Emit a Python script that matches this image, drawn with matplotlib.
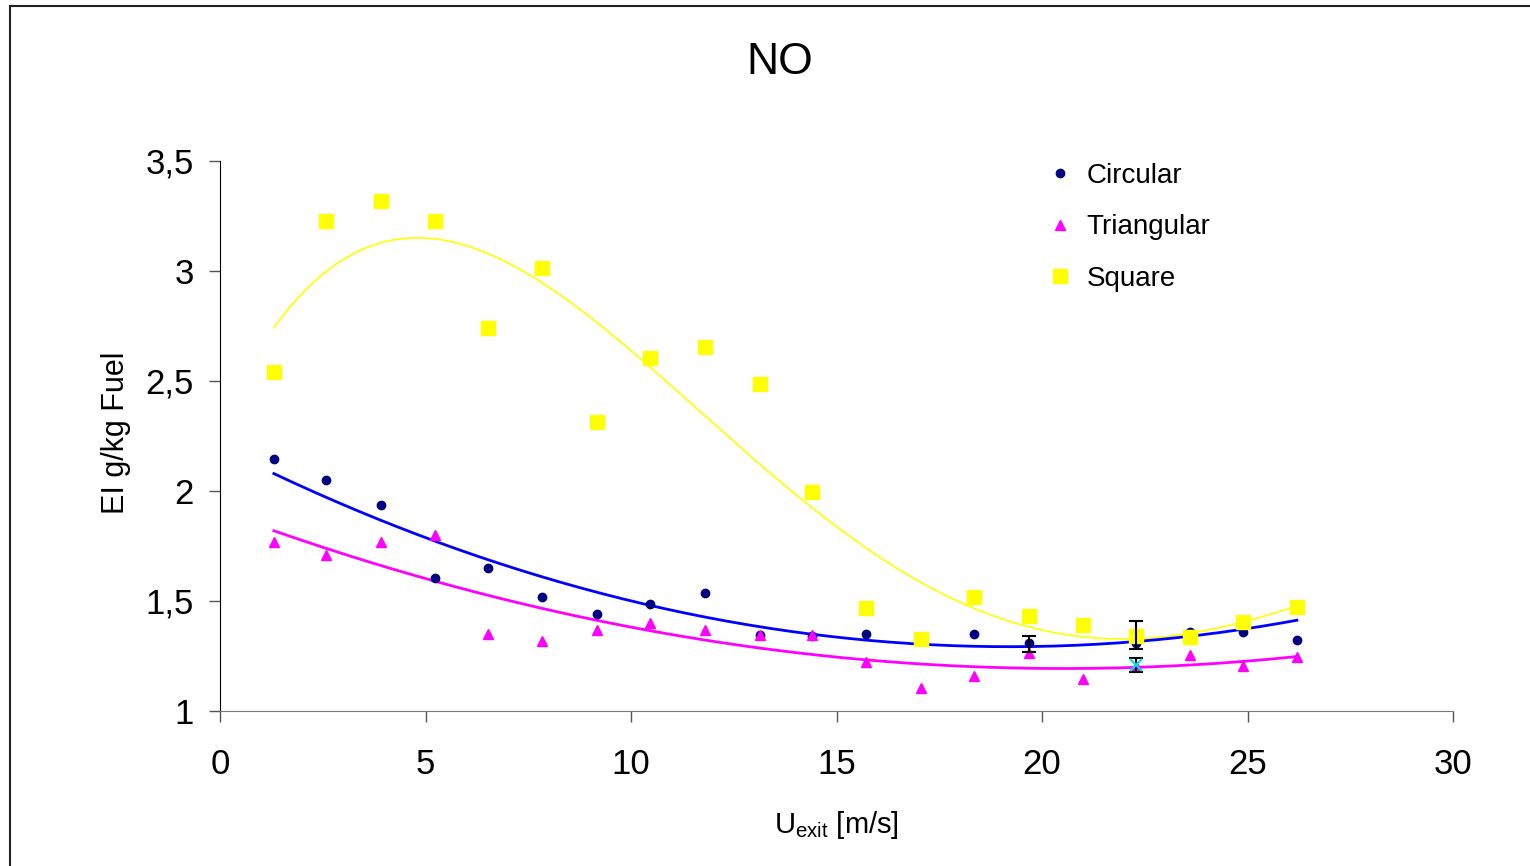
import numpy as np
import matplotlib
matplotlib.use("Agg")
import matplotlib.pyplot as plt
from matplotlib.patches import Rectangle
from matplotlib.ticker import FuncFormatter

plt.rcParams['font.family'] = ['Liberation Sans', 'DejaVu Sans']
plt.rcParams['mathtext.default'] = 'regular'

# exit velocity [m/s]
u_exit = [1.31, 2.58, 3.92, 5.23, 6.52, 7.83, 9.17, 10.46, 11.8, 13.14,
          14.4, 15.72, 17.06, 18.35, 19.68, 21.0, 22.29, 23.6, 24.9, 26.2]

# EI NO [g/kg fuel]
circular = [2.145, 2.05, 1.938, 1.606, 1.648, 1.52, 1.44, 1.486, 1.536, 1.345,
            1.34, 1.35, 1.33, 1.348, 1.307, 1.38, 1.31, 1.36, 1.357, 1.323]
triangular = [1.77, 1.71, 1.77, 1.80, 1.35, 1.32, 1.37, 1.40, 1.37, 1.345,
              1.345, 1.224, 1.105, 1.16, 1.264, 1.145, 1.205, 1.255, 1.205, 1.247]
square = [2.54, 3.229, 3.32, 3.229, 2.742, 3.014, 2.315, 2.606, 2.656, 2.486,
          1.995, 1.47, 1.327, 1.52, 1.433, 1.392, 1.34, 1.338, 1.406, 1.474]

# error bars shown on a few points
err_x = [19.68, 22.29, 22.29]
err_y = [1.305, 1.345, 1.21]
err_size = [0.035, 0.062, 0.032]

fig = plt.figure(figsize=(15.3, 8.66), dpi=100)
ax = fig.add_axes([220 / 1530, 1 - 711 / 866, 1233 / 1530, 550 / 866])

# polynomial trend lines like in the spreadsheet
xs = np.linspace(u_exit[0], u_exit[-1], 200)
ax.plot(xs, np.polyval(np.polyfit(u_exit, square, 4), xs), color='#FFFF00', lw=1.2, zorder=2)
ax.plot(xs, np.polyval(np.polyfit(u_exit, circular, 2), xs), color='#0000FF', lw=2, zorder=2)
ax.plot(xs, np.polyval(np.polyfit(u_exit, triangular, 2), xs), color='#FF00FF', lw=2, zorder=2)

ax.plot(u_exit, circular, 'o', color='#000080', ms=6, ls='none', label='Circular', zorder=3)
ax.plot(u_exit, triangular, '^', color='#FF00FF', ms=7, ls='none', label='Triangular', zorder=3)
ax.plot(u_exit, square, 's', color='#FFFF00', ms=10, ls='none', label='Square', zorder=3)

ax.errorbar(err_x, err_y, yerr=err_size, fmt='none', ecolor='black', elinewidth=1.5,
            capsize=5, capthick=1.5, zorder=4)
ax.plot([22.29], [1.21], 'x', color='#00E0F0', ms=8, mew=1.5, zorder=5)

ax.set_xlim(0, 30)
ax.set_ylim(1, 3.5)
ax.set_xticks(range(0, 31, 5))
ax.set_yticks([1, 1.5, 2, 2.5, 3, 3.5])
ax.yaxis.set_major_formatter(FuncFormatter(lambda v, p: f'{v:g}'.replace('.', ',')))
ax.tick_params(axis='both', labelsize=25, direction='out', length=8, width=1, color='#555555')
ax.tick_params(axis='y', pad=11)
ax.tick_params(axis='x', pad=19)

for s in ['top', 'right']:
    ax.spines[s].set_visible(False)
ax.spines['left'].set_color('black')
ax.spines['bottom'].set_color('#777777')

ax.set_xlabel('U$_{exit}$ [m/s]', fontsize=21)
ax.xaxis.set_label_coords(0.5, -0.179)
ax.set_ylabel('EI g/kg Fuel', fontsize=22)
ax.yaxis.set_label_coords(-0.072, 0.505)

fig.text(780 / 1530, 1 - 62 / 866, 'NO', ha='center', va='center', fontsize=32)

fig.legend(loc='upper left', bbox_to_anchor=(1036.5 / 1530, 1 - 152 / 866), frameon=False,
           fontsize=20, numpoints=1, handlelength=0.9, handletextpad=0.5,
           labelspacing=0.91, borderaxespad=0)

# outer frame of the chart area
fig.patches.append(Rectangle((10 / 1530, -0.05), 1.1, 1.05 - 6 / 866,
                             transform=fig.transFigure, fill=False,
                             edgecolor='#222222', lw=1.5))

fig.savefig('out.png', dpi=100)
